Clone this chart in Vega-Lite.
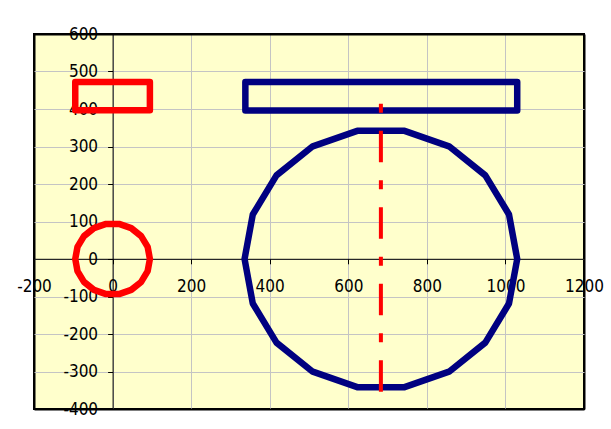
{
  "$schema": "https://vega.github.io/schema/vega-lite/v6.json",
  "autosize": {"type": "none"},
  "padding": {"left": 34, "top": 34, "right": 27, "bottom": 20},
  "width": 550,
  "height": 375,
  "background": "white",
  "config": {
    "view": {"stroke": "black", "strokeWidth": 2, "fill": "#FFFFCC"},
    "axis": {
      "labelFont": "DejaVu Sans Condensed, Liberation Sans",
      "labelFontSize": 17,
      "labelColor": "black",
      "labelOverlap": false,
      "labelBound": false,
      "labelFlush": false,
      "labelExpr": "datum.value + ''",
      "domainColor": "black",
      "domainWidth": 1,
      "tickColor": "black",
      "tickWidth": 1,
      "tickSize": 5,
      "gridOpacity": 1,
      "title": null
    }
  },
  "datasets": {
    "shapes": [
      {"shape": "small box", "i": 0, "x": -95, "y": 397},
      {"shape": "small box", "i": 1, "x": 95, "y": 397},
      {"shape": "small box", "i": 2, "x": 95, "y": 472},
      {"shape": "small box", "i": 3, "x": -95, "y": 472},
      {"shape": "small box", "i": 4, "x": -95, "y": 397},
      {"shape": "large box", "i": 0, "x": 338, "y": 396},
      {"shape": "large box", "i": 1, "x": 1030, "y": 396},
      {"shape": "large box", "i": 2, "x": 1030, "y": 472},
      {"shape": "large box", "i": 3, "x": 338, "y": 472},
      {"shape": "large box", "i": 4, "x": 338, "y": 396},
      {"shape": "small circle", "i": 0, "x": 95, "y": 0},
      {"shape": "small circle", "i": 1, "x": 89.3, "y": 32.5},
      {"shape": "small circle", "i": 2, "x": 72.8, "y": 61.1},
      {"shape": "small circle", "i": 3, "x": 47.5, "y": 82.3},
      {"shape": "small circle", "i": 4, "x": 16.5, "y": 93.6},
      {"shape": "small circle", "i": 5, "x": -16.5, "y": 93.6},
      {"shape": "small circle", "i": 6, "x": -47.5, "y": 82.3},
      {"shape": "small circle", "i": 7, "x": -72.8, "y": 61.1},
      {"shape": "small circle", "i": 8, "x": -89.3, "y": 32.5},
      {"shape": "small circle", "i": 9, "x": -95, "y": 0},
      {"shape": "small circle", "i": 10, "x": -89.3, "y": -32.5},
      {"shape": "small circle", "i": 11, "x": -72.8, "y": -61.1},
      {"shape": "small circle", "i": 12, "x": -47.5, "y": -82.3},
      {"shape": "small circle", "i": 13, "x": -16.5, "y": -93.6},
      {"shape": "small circle", "i": 14, "x": 16.5, "y": -93.6},
      {"shape": "small circle", "i": 15, "x": 47.5, "y": -82.3},
      {"shape": "small circle", "i": 16, "x": 72.8, "y": -61.1},
      {"shape": "small circle", "i": 17, "x": 89.3, "y": -32.5},
      {"shape": "small circle", "i": 18, "x": 95, "y": 0},
      {"shape": "large circle", "i": 0, "x": 1030, "y": 0},
      {"shape": "large circle", "i": 1, "x": 1009.1, "y": 118.7},
      {"shape": "large circle", "i": 2, "x": 948.8, "y": 223.1},
      {"shape": "large circle", "i": 3, "x": 856.5, "y": 300.5},
      {"shape": "large circle", "i": 4, "x": 743.2, "y": 341.7},
      {"shape": "large circle", "i": 5, "x": 622.8, "y": 341.7},
      {"shape": "large circle", "i": 6, "x": 509.5, "y": 300.5},
      {"shape": "large circle", "i": 7, "x": 417.2, "y": 223.1},
      {"shape": "large circle", "i": 8, "x": 356.9, "y": 118.7},
      {"shape": "large circle", "i": 9, "x": 336, "y": 0},
      {"shape": "large circle", "i": 10, "x": 356.9, "y": -118.7},
      {"shape": "large circle", "i": 11, "x": 417.2, "y": -223.1},
      {"shape": "large circle", "i": 12, "x": 509.5, "y": -300.5},
      {"shape": "large circle", "i": 13, "x": 622.8, "y": -341.7},
      {"shape": "large circle", "i": 14, "x": 743.2, "y": -341.7},
      {"shape": "large circle", "i": 15, "x": 856.5, "y": -300.5},
      {"shape": "large circle", "i": 16, "x": 948.8, "y": -223.1},
      {"shape": "large circle", "i": 17, "x": 1009.1, "y": -118.7},
      {"shape": "large circle", "i": 18, "x": 1030, "y": 0}
    ],
    "centre": [
      {"i": 0, "x": 683, "y": -354},
      {"i": 1, "x": 683, "y": 414}
    ]
  },
  "encoding": {
    "x": {
      "field": "x",
      "type": "quantitative",
      "scale": {"domain": [-200, 1200], "nice": false, "zero": false},
      "axis": {
        "values": [-200, 0, 200, 400, 600, 800, 1000, 1200],
        "offset": -150.2,
        "labelPadding": 15,
        "grid": true,
        "gridColor": {"condition": {"test": "datum.value == -200 || datum.value == 1200", "value": "black"}, "value": "#C4C4C4"},
        "gridWidth": {"condition": {"test": "datum.value == -200 || datum.value == 1200", "value": 2}, "value": 1}
      }
    },
    "y": {
      "field": "y",
      "type": "quantitative",
      "scale": {"domain": [-400, 600], "nice": false, "zero": false},
      "axis": {
        "values": [-400, -300, -200, -100, 0, 100, 200, 300, 400, 500, 600],
        "offset": -78.6,
        "labelPadding": 10,
        "grid": true,
        "gridColor": {"condition": {"test": "datum.value == -400 || datum.value == 600", "value": "black"}, "value": "#C4C4C4"},
        "gridWidth": {"condition": {"test": "datum.value == -400 || datum.value == 600", "value": 2}, "value": 1}
      }
    },
    "order": {"field": "i", "type": "quantitative"}
  },
  "layer": [
    {
      "data": {"name": "shapes"},
      "mark": {"type": "line", "strokeWidth": 6.5, "strokeJoin": "round", "strokeCap": "round", "clip": true},
      "encoding": {
        "color": {
          "field": "shape",
          "type": "nominal",
          "scale": {
            "domain": ["small box", "large box", "small circle", "large circle"],
            "range": ["#FF0000", "#000080", "#FF0000", "#000080"]
          },
          "legend": null
        },
        "detail": {"field": "shape", "type": "nominal"}
      }
    },
    {
      "data": {"name": "centre"},
      "mark": {"type": "line", "color": "#FF0000", "strokeWidth": 4, "strokeCap": "butt", "strokeDash": [31.5, 18, 9, 18], "clip": true},
      "encoding": {}
    }
  ]
}
